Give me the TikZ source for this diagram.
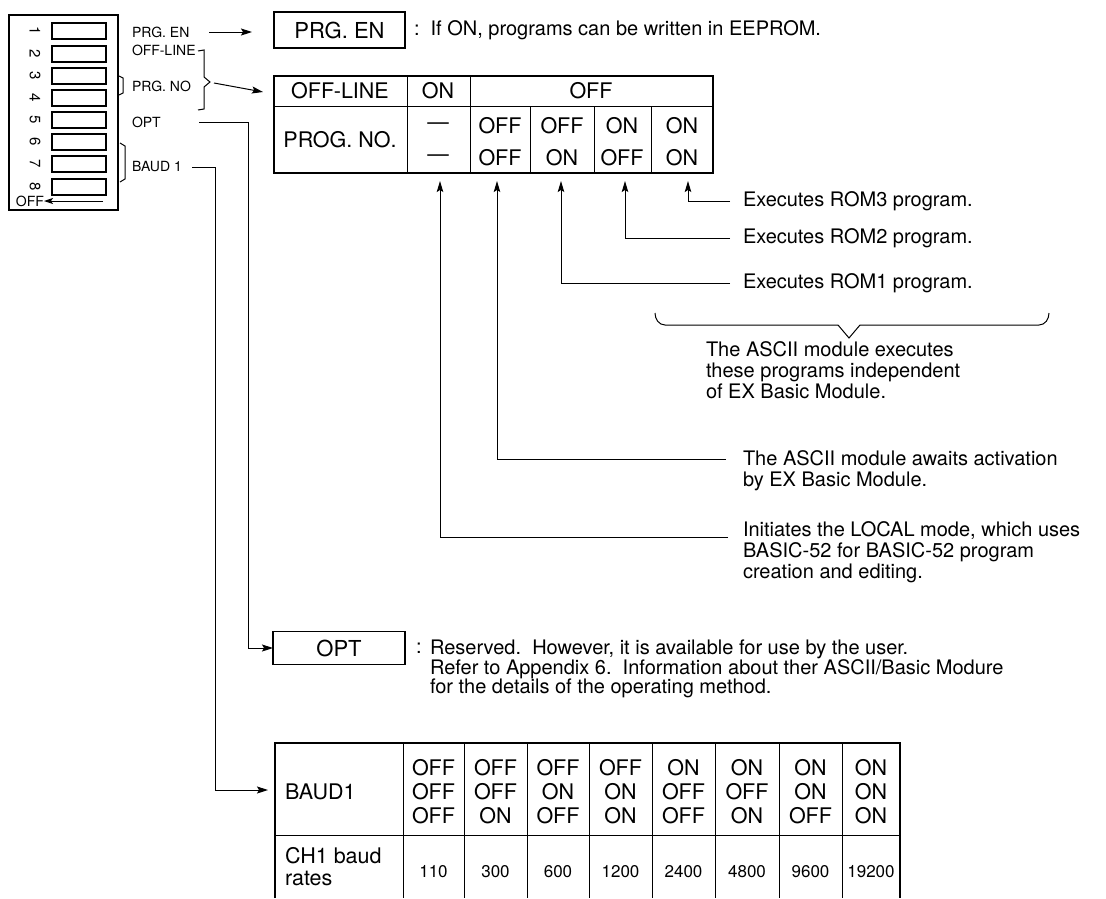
\documentclass[tikz,border=0pt]{standalone}
\usepackage{fontspec}
\setmainfont{TeX Gyre Heros}
\usetikzlibrary{arrows.meta}

\begin{document}
\begin{tikzpicture}[x=1pt,y=-1pt,
  every node/.style={inner sep=0pt, outer sep=0pt},
  thinline/.style={line width=1pt},
  frame/.style={line width=1.8pt},
  lead/.style={line width=1pt, -{Stealth[length=11pt,width=7pt,inset=2pt]}},
  uparrow/.style={line width=1pt, -{Stealth[length=11pt,width=6.5pt,inset=2pt]}},
  small/.style={font=\fontsize{14}{16}\selectfont},
  big/.style={font=\fontsize{20}{21}\selectfont},
  cell/.style={font=\fontsize{21.5}{22}\selectfont},
  num/.style={font=\fontsize{17}{19}\selectfont},
  box/.style={draw, frame, font=\fontsize{22}{24}\selectfont},
]
\useasboundingbox (0,0) rectangle (1106,898);

% ---------- DIP switch ----------
\draw[frame] (9,15) rectangle (118,210);
\foreach \i/\y in {1/31,2/54,3/76,4/98,5/120,6/142,7/164,8/187} {
  \draw[line width=1.3pt] (52,\y-8) rectangle (106,\y+8);
  \node[font=\fontsize{15}{16}\selectfont, rotate=-90] (d\i) at (35,\y) {\i};
}
\node[small, anchor=west] (offlbl) at (16,201) {OFF};
\coordinate (offstart) at (103,201);
\draw[thinline, -{Stealth[length=9pt,width=6pt,inset=2pt]}] (offstart) -- (offlbl.east);

% switch labels
\node[small, anchor=west] (lpe)   at (132,32)  {PRG. EN};
\node[small, anchor=west] (lol)   at (132,50)  {OFF-LINE};
\node[small, anchor=west] (lpn)   at (132,86)  {PRG. NO};
\node[small, anchor=west] (lopt)  at (132,122) {OPT};
\node[small, anchor=west] (lbaud) at (132,167) {BAUD 1};

% brackets
\draw[thinline] (119,76) -- (123,78) -- (123,93) -- (119,95);
\draw[thinline] (120,143) -- (125,146) -- (125,179) -- (120,182);
\draw[thinline] (198,51) -- (204,50) -- (204,77) -- (210,82) -- (204,87) -- (204,109) -- (198,110);

% ---------- PRG. EN ----------
\node[box, minimum width=131pt, minimum height=36pt] (prgen) at (339.5,30) {PRG. EN};
\node[big, anchor=west] (prgendesc) at (414,30) {:\ \ If ON, programs can be written in EEPROM.};
\coordinate (pestart) at (209,32);
\draw[lead] (pestart) -- (252,32);

% ---------- PROG. NO table ----------
\node[draw, frame, minimum width=439pt, minimum height=97pt] (prgtab) at (493.5,124.5) {};
\draw[thinline] (274,106) -- (713,106);
\draw[thinline] (407,76) -- (407,173);
\draw[thinline] (470,76) -- (470,173);
\foreach \x in {530,594,651} \draw[thinline] (\x,106) -- (\x,173);
\node[cell] (h1) at (340,91) {OFF-LINE};
\node[cell] (h2) at (438,91) {ON};
\node[cell] (h3) at (591,91) {OFF};
\node[cell] (pn) at (340,140) {PROG. NO.};
\node[cell] (dash1) at (438,126) {---};
\node[cell] (dash2) at (438,158) {---};
\foreach \x/\a/\b [count=\k] in {500/OFF/OFF,562/OFF/ON,622/ON/OFF,682/ON/ON} {
  \node[cell] (pa\k) at (\x,126) {\a};
  \node[cell] (pb\k) at (\x,158) {\b};
}
\coordinate (bracetip) at (214,83);
\draw[lead] (bracetip) -- (263,92);

% explanation arrows
\coordinate (r3) at (730,201);
\coordinate (r2) at (730,238);
\coordinate (r1) at (730,283);
\coordinate (aw) at (726,459);
\coordinate (lo) at (728,537);
\draw[uparrow] (r3) -| (688,181);
\draw[uparrow] (r2) -| (625,181);
\draw[uparrow] (r1) -| (561,181);
\draw[uparrow] (aw) -| (497,181);
\draw[uparrow] (lo) -| (440,181);

\node[big, anchor=west] (t3) at (743,201) {Executes ROM3 program.};
\node[big, anchor=west] (t2) at (743,238) {Executes ROM2 program.};
\node[big, anchor=west] (t1) at (743,283) {Executes ROM1 program.};

% brace over the ROM programs
\draw[thinline] (655,313) to[out=-90,in=180] (665,325) -- (838,325) -- (849,338)
  -- (860,325) -- (1039,325) to[out=0,in=-90] (1049,313);
\node[big, align=left, anchor=north west] (indep) at (706,342)
  {The ASCII module executes\\these programs independent\\of EX Basic Module.};
\node[big, align=left, anchor=north west] (await) at (743,451)
  {The ASCII module awaits activation\\by EX Basic Module.};
\node[big, align=left, anchor=north west] (local) at (743,522)
  {Initiates the LOCAL mode, which uses\\BASIC-52 for BASIC-52 program\\creation and editing.};

% ---------- OPT ----------
\node[box, minimum width=132pt, minimum height=33pt] (optbox) at (339,648) {OPT};
\node[big] (optcolon) at (419,648) {:};
\node[font=\fontsize{20}{19}\selectfont, align=left, anchor=north west] (optdesc) at (430,640)
  {Reserved.\ \ However, it is available for use by the user.\\
   Refer to Appendix 6.\ \ Information about ther ASCII/Basic Modure\\
   for the details of the operating method.};
\coordinate (optstart) at (199,122);
\draw[lead] (optstart) -- (248,122) -- (248,648) -- (optbox.west);

% ---------- BAUD1 table ----------
\draw[frame] (275,898) -- (275,743) -- (900,743) -- (900,898);
\draw[thinline] (275,835) -- (900,835);
\foreach \x in {403,464,527,589,652,715,779,842} \draw[thinline] (\x,743) -- (\x,898);
\node[cell, anchor=west] (baud) at (285,792) {BAUD1};
\node[cell, align=left, anchor=west] (ch1) at (285,867) {CH1 baud\\rates};
\foreach \x/\a/\b/\c/\r [count=\k] in {
  433.5/OFF/OFF/OFF/110, 495.5/OFF/OFF/ON/300, 558/OFF/ON/OFF/600,
  620.5/OFF/ON/ON/1200, 683.5/ON/OFF/OFF/2400, 747/ON/OFF/ON/4800,
  810.5/ON/ON/OFF/9600, 871/ON/ON/ON/19200} {
  \node[cell] (ba\k) at (\x,768) {\a};
  \node[cell] (bb\k) at (\x,792) {\b};
  \node[cell] (bc\k) at (\x,816) {\c};
  \node[num]  (rate\k) at (\x,872) {\r};
}
\coordinate (baudstart) at (192,167);
\draw[lead] (baudstart) -- (215,167) -- (215,790) -- (268,790);

\end{tikzpicture}
\end{document}
